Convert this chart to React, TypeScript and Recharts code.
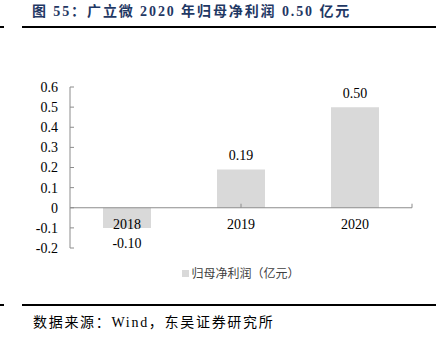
import { BarChart, Bar, XAxis, YAxis, ReferenceLine, LabelList, Legend } from 'recharts'

const years = ['2018', '2019', '2020']
const netProfit = [-0.1, 0.19, 0.5]
const yTicks = [-0.2, -0.1, 0, 0.1, 0.2, 0.3, 0.4, 0.5, 0.6]
// band edges on a 0..3 helper axis, for the small ticks on the zero line
const bandEdges = [1, 2, 3]

const data = years.map((year, i) => ({ year, profit: netProfit[i] }))

const AXIS = '#8c8c8c'
const BAR = '#d9d9d9'
const FONT = '"Liberation Serif", "Noto Sans CJK SC", serif'

function barEdges(props: any) {
  const vb = props.viewBox ?? props
  const { x, y, width, height } = vb
  return { cx: x + width / 2, top: Math.min(y, y + height), bottom: Math.max(y, y + height) }
}

// category name sits just under the zero line, whatever the bar's sign
function YearLabel(props: any) {
  const { cx, top, bottom } = barEdges(props)
  const idx = years.indexOf(String(props.value))
  const zeroY = netProfit[idx] < 0 ? top : bottom
  return (
    <text x={cx} y={zeroY + 17} textAnchor="middle" dominantBaseline="central" fontSize={14} fill="#000">
      {props.value}
    </text>
  )
}

// value above a positive bar, below a negative one
function ValueLabel(props: any) {
  const { cx, top, bottom } = barEdges(props)
  const v = Number(props.value)
  const ty = v < 0 ? bottom + 16 : top - 14
  return (
    <text x={cx} y={ty} textAnchor="middle" dominantBaseline="central" fontSize={14} fill="#000">
      {v.toFixed(2)}
    </text>
  )
}

function LegendBox() {
  return (
    <div style={{ textAlign: 'center', fontSize: 12, color: '#404040', lineHeight: '16px' }}>
      <span
        style={{
          display: 'inline-block',
          width: 7,
          height: 7,
          background: BAR,
          marginRight: 2,
          verticalAlign: 'middle',
        }}
      />
      <span style={{ fontFamily: '"Noto Sans CJK SC", sans-serif', verticalAlign: 'middle' }}>
        归母净利润（亿元）
      </span>
    </div>
  )
}

export default function App() {
  return (
    <div
      style={{
        position: 'absolute',
        left: 0,
        top: 0,
        width: 436,
        height: 353,
        background: '#fff',
        fontFamily: FONT,
        overflow: 'hidden',
      }}
    >
      <div
        style={{
          position: 'absolute',
          left: 32,
          top: 3,
          fontSize: 14,
          lineHeight: '18px',
          fontWeight: 'bold',
          color: '#1f3864',
          whiteSpace: 'nowrap',
          letterSpacing: 1.9,
        }}
      >
        图 55：广立微 2020 年归母净利润 0.50 亿元
      </div>
      <div style={{ position: 'absolute', left: 0, top: 26, width: 4, height: 2, background: '#000' }} />
      <div style={{ position: 'absolute', left: 22, top: 26, width: 414, height: 2, background: '#000' }} />

      <div style={{ position: 'absolute', left: 0, top: 0 }}>
        <BarChart
          width={436}
          height={353}
          data={data}
          margin={{ top: 87, right: 24, bottom: 105, left: 60 }}
        >
          <XAxis dataKey="year" hide />
          <XAxis xAxisId="edge" type="number" domain={[0, 3]} hide />
          <YAxis
            width={10}
            domain={[-0.2, 0.6]}
            ticks={yTicks}
            interval={0}
            allowDataOverflow
            axisLine={{ stroke: AXIS }}
            tickLine={{ stroke: AXIS }}
            tickSize={-4}
            tickMargin={16}
            tick={{ fill: '#000', fontSize: 14 }}
            tickFormatter={(v: number) => (v === 0 ? '0' : String(v))}
          />
          <Legend
            verticalAlign="middle"
            content={<LegendBox />}
            wrapperStyle={{ top: 264, left: 70, width: 342 }}
          />
          <Bar dataKey="profit" name="归母净利润（亿元）" fill={BAR} barSize={48} isAnimationActive={false}>
            <LabelList dataKey="profit" content={<ValueLabel />} />
            <LabelList dataKey="year" content={<YearLabel />} />
          </Bar>
          <ReferenceLine y={0} stroke={AXIS} />
          {bandEdges.map((e) => (
            <ReferenceLine
              key={e}
              xAxisId="edge"
              stroke={AXIS}
              segment={[
                { x: e, y: 0 },
                { x: e, y: 0.02 },
              ]}
            />
          ))}
        </BarChart>
      </div>

      <div style={{ position: 'absolute', left: 0, top: 304, width: 4, height: 2, background: '#000' }} />
      <div style={{ position: 'absolute', left: 22, top: 304, width: 414, height: 2, background: '#000' }} />
      <div
        style={{
          position: 'absolute',
          left: 33,
          top: 314,
          fontSize: 14,
          lineHeight: '18px',
          color: '#000',
          whiteSpace: 'nowrap',
          letterSpacing: 1.7,
        }}
      >
        数据来源：Wind，东吴证券研究所
      </div>
    </div>
  )
}
